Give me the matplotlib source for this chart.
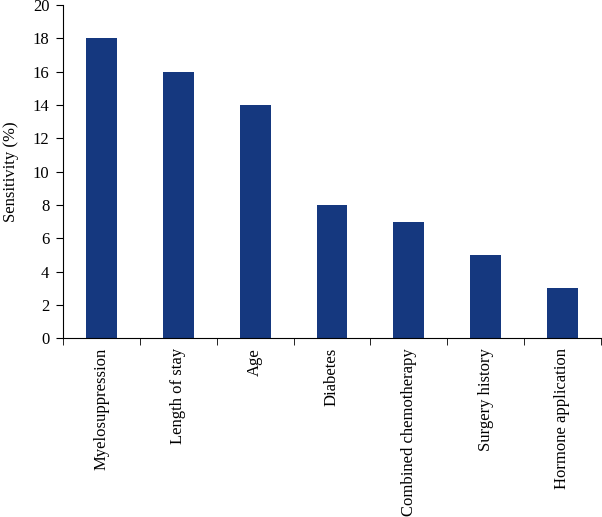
import matplotlib.pyplot as plt
import numpy as np

factors = ['Myelosuppression', 'Length of stay', 'Age', 'Diabetes',
           'Combined chemotherapy', 'Surgery history', 'Hormone application']
sensitivity = [18, 16, 14, 8, 7, 5, 3]

plt.rcParams['font.family'] = ['Liberation Serif', 'DejaVu Serif']
plt.rcParams['font.size'] = 12

fig = plt.figure(figsize=(6.02, 5.17), dpi=100)
ax = fig.add_axes([0.105, 0.346, 0.893, 0.644])

x = np.arange(len(factors))
ax.bar(x, sensitivity, width=0.4, color='#15387f')

ax.set_xlim(-0.5, len(factors) - 0.5)
ax.set_ylim(0, 20)
ax.set_yticks(range(0, 21, 2))
ax.set_xticks(x)
ax.set_xticklabels(factors, rotation=90)
ax.set_xticks(np.arange(len(factors) + 1) - 0.5, minor=True)
ax.tick_params(axis='x', which='major', length=0, pad=7)
ax.tick_params(axis='x', which='minor', length=5, direction='out')
ax.tick_params(axis='y', length=5, direction='out', pad=5)
ax.set_ylabel('Sensitivity (%)', labelpad=10)

for s in ['top', 'right']:
    ax.spines[s].set_visible(False)

fig.savefig('out.png', dpi=100)
